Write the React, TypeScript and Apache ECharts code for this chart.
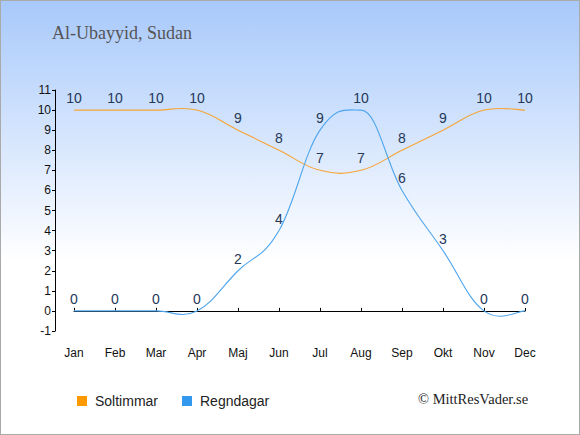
import React, { useEffect, useRef } from "react";
import * as echarts from "echarts";

const months = ["Jan", "Feb", "Mar", "Apr", "Maj", "Jun", "Jul", "Aug", "Sep", "Okt", "Nov", "Dec"];
const soltimmar = [10, 10, 10, 10, 9, 8, 7, 7, 8, 9, 10, 10];
const regndagar = [0, 0, 0, 0, 2, 4, 9, 10, 6, 3, 0, 0];
const titleText = "Al-Ubayyid, Sudan";
const creditText = "© MittResVader.se";

function splineRenderer(values: number[], color: string) {
  return (_params: any, api: any) => {
    const pts = values.map((v, i) => api.coord([i, v]));
    const n = pts.length;
    const t = 0.2;
    const tangents = pts.map((p: number[], i: number) => {
      const a = pts[Math.max(i - 1, 0)];
      const b = pts[Math.min(i + 1, n - 1)];
      let dx = (b[0] - a[0]) * t;
      let dy = (b[1] - a[1]) * t;
      if (i > 0 && i < n - 1) {
        const v = values[i];
        const l = values[i - 1];
        const r = values[i + 1];
        if ((v > l && v > r) || (v < l && v < r)) dy = 0;
      }
      return [dx, dy];
    });
    const children: any[] = [];
    for (let i = 0; i < n - 1; i++) {
      const p1 = pts[i];
      const p2 = pts[i + 1];
      children.push({
        type: "bezierCurve",
        shape: {
          x1: p1[0],
          y1: p1[1],
          x2: p2[0],
          y2: p2[1],
          cpx1: p1[0] + tangents[i][0],
          cpy1: p1[1] + tangents[i][1],
          cpx2: p2[0] - tangents[i + 1][0],
          cpy2: p2[1] - tangents[i + 1][1],
        },
        style: { stroke: color, lineWidth: 1.1, fill: "none" },
        silent: true,
      });
    }
    return { type: "group", children };
  };
}

export default function App() {
  const ref = useRef<HTMLDivElement>(null);
  useEffect(() => {
    document.body.style.margin = "0";
    const chart = echarts.init(ref.current!, null, { renderer: "svg" });
    const labelStyle = {
      show: true,
      position: "top" as const,
      color: "#253858",
      fontSize: 14,
      fontFamily: "Liberation Sans, Arial, sans-serif",
      distance: 5,
    };
    chart.setOption({
      animation: false,
      backgroundColor: {
        type: "linear",
        x: 0, y: 0, x2: 0, y2: 1,
        colorStops: [
          { offset: 0, color: "#a8c9fb" },
          { offset: 0.6, color: "#ffffff" },
          { offset: 1, color: "#ffffff" },
        ],
      },
      title: {
        text: titleText,
        left: 51,
        top: 23,
        padding: 0,
        textStyle: {
          fontFamily: "Liberation Serif, serif",
          fontSize: 18,
          fontWeight: "normal",
          color: "#555555",
        },
      },
      legend: {
        left: 76,
        top: 393,
        padding: 0,
        icon: "rect",
        itemWidth: 10,
        itemHeight: 10,
        itemGap: 24,
        textStyle: {
          fontFamily: "Liberation Sans, Arial, sans-serif",
          fontSize: 14,
          color: "#222222",
          padding: [0, 0, 0, 3],
        },
        data: [
          { name: "Soltimmar", itemStyle: { color: "#ff9900" } },
          { name: "Regndagar", itemStyle: { color: "#3399ee" } },
        ],
      },
      graphic: [
        {
          type: "text",
          left: 417,
          top: 390,
          style: {
            text: creditText,
            font: "14.5px Liberation Serif, serif",
            fill: "#222222",
          },
        },
      ],
      grid: { left: 73, right: 54, top: 89, bottom: 103 },
      xAxis: {
        type: "category",
        data: months,
        boundaryGap: false,
        offset: 10,
        axisLine: { lineStyle: { color: "#000", width: 1 } },
        axisTick: { inside: true, length: 3, lineStyle: { color: "#000" } },
        axisLabel: {
          color: "#111",
          fontSize: 12,
          fontFamily: "Liberation Sans, Arial, sans-serif",
          margin: 6,
        },
        splitLine: { show: false },
      },
      yAxis: {
        type: "value",
        min: -1,
        max: 11,
        interval: 1,
        offset: 19,
        axisLine: { show: true, lineStyle: { color: "#000", width: 1 } },
        axisTick: { show: true, length: 3, lineStyle: { color: "#000" } },
        axisLabel: {
          color: "#111",
          fontSize: 12,
          fontFamily: "Liberation Sans, Arial, sans-serif",
          margin: 4,
        },
        splitLine: { show: false },
      },
      series: [
        {
          name: "Soltimmar",
          type: "line",
          data: soltimmar,
          showSymbol: true,
          symbol: "circle",
          symbolSize: 0,
          lineStyle: { width: 0, opacity: 0 },
          itemStyle: { color: "#ff9900" },
          label: labelStyle,
          z: 3,
        },
        {
          name: "Regndagar",
          type: "line",
          data: regndagar,
          showSymbol: true,
          symbol: "circle",
          symbolSize: 0,
          lineStyle: { width: 0, opacity: 0 },
          itemStyle: { color: "#3399ee" },
          label: labelStyle,
          z: 3,
        },
        {
          name: "Soltimmar",
          type: "custom",
          data: [0],
          renderItem: splineRenderer(soltimmar, "#f7a435"),
          silent: true,
          clip: false,
          z: 2,
        },
        {
          name: "Regndagar",
          type: "custom",
          data: [0],
          renderItem: splineRenderer(regndagar, "#4ea5ee"),
          silent: true,
          clip: false,
          z: 2,
        },
      ],
    });
    return () => chart.dispose();
  }, []);
  return (
    <div
      style={{
        width: 580,
        height: 435,
        boxSizing: "border-box",
        border: "1px solid #aaaaaa",
      }}
    >
      <div ref={ref} style={{ width: 578, height: 433 }} />
    </div>
  );
}
